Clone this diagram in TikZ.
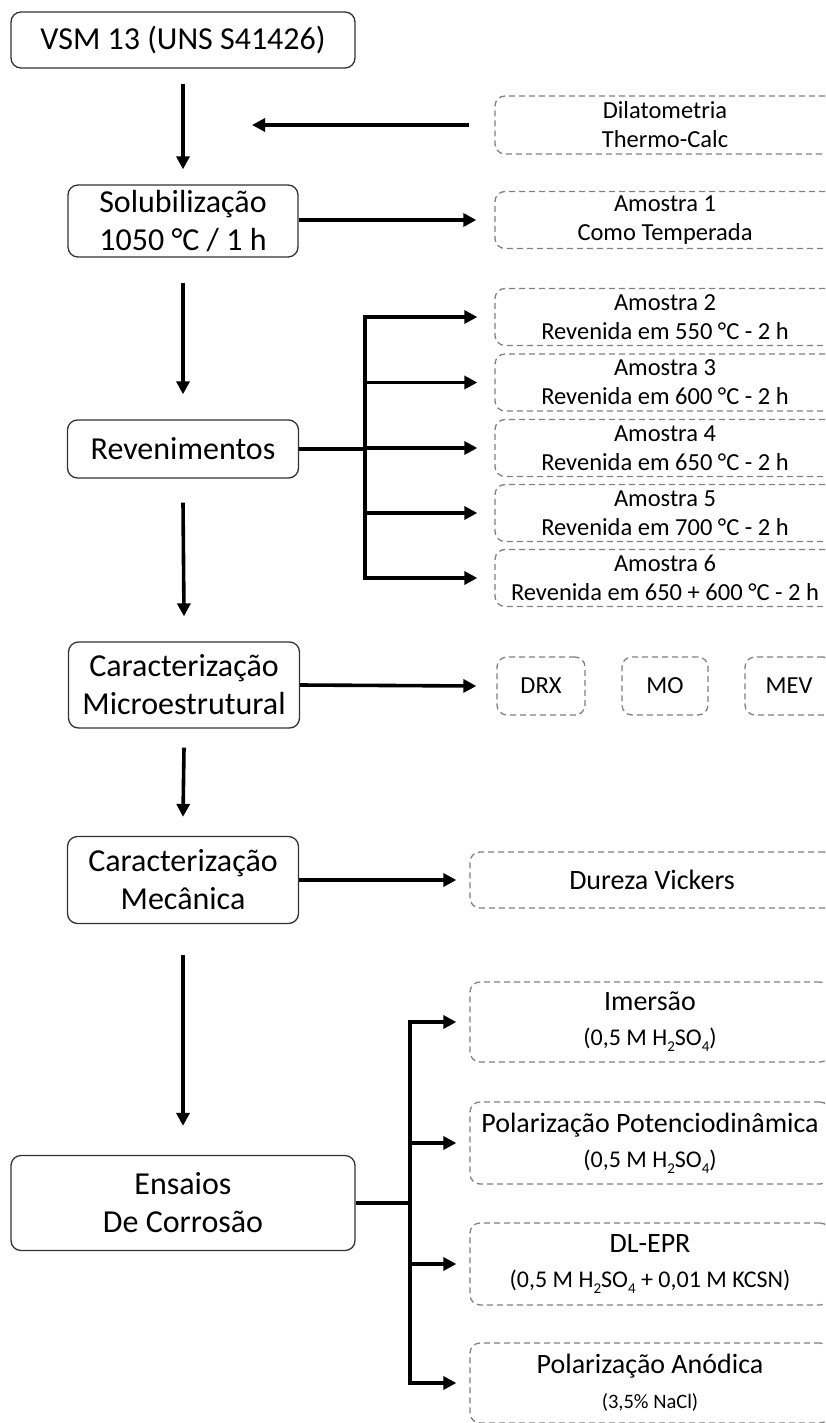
\documentclass[tikz,border=0pt]{standalone}
\usepackage{fontspec}
\setmainfont{Carlito}
\usetikzlibrary{arrows.meta}
\tikzset{
  mainbox/.style={draw=black!80, line width=1.3pt, rounded corners=10pt, fill=white,
    inner sep=0pt, align=center, font=\fontsize{32}{38}\selectfont},
  dbox/.style={draw=black!50, line width=1.3pt, dash pattern=on 6pt off 4pt, rounded corners=10pt,
    inner sep=0pt, align=center, font=\fontsize{24.5}{29}\selectfont},
  cbox/.style={dbox, font=\fontsize{28}{35}\selectfont},
  arr/.style={line width=3.6pt, -{Triangle[length=13pt,width=13pt]}},
  ln/.style={line width=3.6pt},
}
\newcommand{\sbs}[1]{\raisebox{-0.25em}{\fontsize{15}{15}\selectfont #1}}
\begin{document}
\begin{tikzpicture}[x=1pt,y=-1pt]
\useasboundingbox (0,0) rectangle (825,1423);
\fill[white] (0,0) rectangle (825,1423);
\clip (0,0) rectangle (825,1423);

% main column
\node[mainbox, minimum width=344pt, minimum height=56pt] (vsm) at (183,40) {VSM 13 (UNS S41426)};
\node[mainbox, minimum width=230pt, minimum height=72pt] (sol) at (183,221) {Solubilização\\1050 °C / 1 h};
\node[mainbox, minimum width=231pt, minimum height=58pt] (rev) at (183,449) {Revenimentos};
\node[mainbox, minimum width=231pt, minimum height=86pt] (mic) at (184,685) {Caracterização\\Microestrutural};
\node[mainbox, minimum width=231pt, minimum height=87pt] (mec) at (183,880) {Caracterização\\Mecânica};
\node[mainbox, minimum width=344pt, minimum height=95pt] (ens) at (183,1203) {Ensaios\\De Corrosão};

% right dashed boxes
\node[dbox, minimum width=340pt, minimum height=58pt] (dil) at (665,125) {Dilatometria\\Thermo-Calc};
\node[dbox, minimum width=340pt, minimum height=57pt] (a1) at (665,220) {Amostra 1\\Como Temperada};
\node[dbox, minimum width=340pt, minimum height=57pt] (a2) at (665,317) {Amostra 2\\Revenida em 550 °C - 2 h};
\node[dbox, minimum width=340pt, minimum height=57pt] (a3) at (665,382.5) {Amostra 3\\Revenida em 600 °C - 2 h};
\node[dbox, minimum width=340pt, minimum height=57pt] (a4) at (665,448) {Amostra 4\\Revenida em 650 °C - 2 h};
\node[dbox, minimum width=340pt, minimum height=57pt] (a5) at (665,513) {Amostra 5\\Revenida em 700 °C - 2 h};
\node[dbox, minimum width=340pt, minimum height=57pt] (a6) at (665,578) {Amostra 6\\Revenida em 650 + 600 °C - 2 h};

\node[dbox, minimum width=88pt, minimum height=58pt] (drx) at (541,686) {DRX};
\node[dbox, minimum width=86pt, minimum height=58pt] (mo) at (665,686) {MO};
\node[dbox, minimum width=88pt, minimum height=58pt] (mev) at (789,686) {MEV};

\node[dbox, minimum width=364pt, minimum height=56pt, font=\fontsize{28}{33}\selectfont] (dur) at (652,880) {Dureza Vickers};

\node[cbox, minimum width=360pt, minimum height=80pt] (c1) at (650,1022) {Imersão\\{\fontsize{24}{28}\selectfont (0,5 M H\sbs{2}SO\sbs{4})}};
\node[cbox, minimum width=360pt, minimum height=82pt] (c2) at (650,1143) {Polarização Potenciodinâmica\\{\fontsize{24}{28}\selectfont (0,5 M H\sbs{2}SO\sbs{4})}};
\node[cbox, minimum width=360pt, minimum height=82pt] (c3) at (650,1264) {DL-EPR\\{\fontsize{24}{28}\selectfont (0,5 M H\sbs{2}SO\sbs{4} + 0,01 M KCSN)}};
\node[cbox, minimum width=360pt, minimum height=80pt] (c4) at (650,1383) {Polarização Anódica\\{\fontsize{20.5}{26}\selectfont (3,5\% NaCl)}};

% vertical arrows
\draw[arr] ([yshift=-15pt]vsm.south) -- ([yshift=15pt]sol.north);
\draw[arr] ([yshift=-25pt]sol.south) -- ([yshift=25pt]rev.north);
\draw[arr] ([yshift=-24pt]rev.south) -- ([yshift=25pt]mic.north);
\draw[arr] ([yshift=-19pt]mic.south) -- ([yshift=19pt]mec.north);
\draw[arr] ([yshift=-31pt]mec.south) -- ([yshift=29pt]ens.north);

% dilatometria feedback
\coordinate (fb) at (252,125);
\draw[arr] ([xshift=-25pt]dil.west) -- (fb);

% solubilizacao -> amostra 1
\draw[arr] (sol.east |- a1.west) -- ([xshift=-18pt]a1.west);

% revenimentos bus
\coordinate (rb) at (365,449);
\draw[ln] (rev.east |- rb) -- (rb);
\draw[ln] (365,315.2) -- (365,579.8);
\foreach \a in {a2,a3,a4,a5,a6}{
  \draw[arr] (rb |- \a.west) -- ([xshift=-17pt]\a.west);
}

% microestrutural
\draw[arr] (mic.east) -- ([xshift=-20pt]drx.west);

% mecanica
\draw[arr] (mec.east) -- ([xshift=-13pt]dur.west);

% corrosao bus
\coordinate (cb) at (410,1203);
\draw[ln] (ens.east |- cb) -- (cb);
\draw[ln] (410,1020.2) -- (410,1384.8);
\foreach \c in {c1,c2,c3,c4}{
  \draw[arr] (cb |- \c.west) -- ([xshift=-13pt]\c.west);
}
\end{tikzpicture}
\end{document}
